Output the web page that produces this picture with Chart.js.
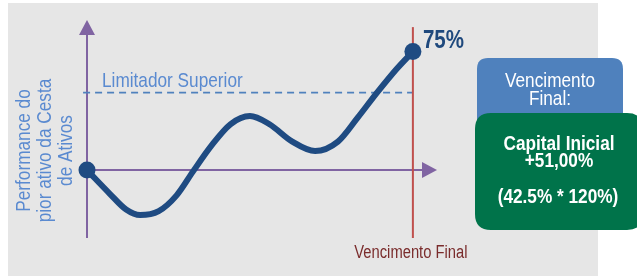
<!DOCTYPE html>
<html>
<head>
<meta charset="utf-8">
<script src="https://cdn.jsdelivr.net/npm/chart.js@4.4.1/dist/chart.umd.min.js"></script>
<style>
  html, body { margin: 0; padding: 0; background: #fff; }
  #wrap { width: 637px; height: 276px; position: relative; }
</style>
</head>
<body>
<div id="wrap"><canvas id="chart"></canvas></div>
<script>
// Performance path of the worst asset, in % of the initial level.
const curveX = [0, 7, 12, 16.3, 22, 27.5, 32.5, 38, 44, 50, 56, 63, 70, 77, 83, 89, 95, 100];
const curveY = [0, -15, -25, -28.5, -26, -16, -1, 15, 29, 34.2, 29, 18, 12, 18, 33, 49, 64, 75];
const limiterLevel = 49;
const maturityX = 100;
const finalLabel = "75%";
const yTitle = ["Performance do", "pior ativo da Cesta", "de Ativos"];
const limiterLabel = "Limitador Superior";
const maturityLabel = "Vencimento Final";
const boxTitle = ["Vencimento", "Final:"];
const boxResult = ["Capital Inicial", "+51,00%", "(42.5% * 120%)"];

// no narrow face installed: squeeze Liberation Sans (Arial metrics) instead
const FONT = "'Liberation Sans', Arial, sans-serif";
const NARROW = 0.82;

function narrowText(ctx, text, x, y, font, align, rotate) {
  ctx.save();
  ctx.translate(x, y);
  if (rotate) ctx.rotate(rotate);
  ctx.scale(NARROW, 1);
  ctx.font = font;
  ctx.textAlign = align;
  ctx.textBaseline = "alphabetic";
  ctx.fillText(text, 0, 0);
  ctx.restore();
}

function roundRect(ctx, x, y, w, h, r) {
  ctx.beginPath();
  ctx.moveTo(x + r, y);
  ctx.lineTo(x + w - r, y);
  ctx.quadraticCurveTo(x + w, y, x + w, y + r);
  ctx.lineTo(x + w, y + h - r);
  ctx.quadraticCurveTo(x + w, y + h, x + w - r, y + h);
  ctx.lineTo(x + r, y + h);
  ctx.quadraticCurveTo(x, y + h, x, y + h - r);
  ctx.lineTo(x, y + r);
  ctx.quadraticCurveTo(x, y, x + r, y);
  ctx.closePath();
}

const decor = {
  id: "decor",
  beforeDraw(chart) {
    const ctx = chart.ctx;
    ctx.save();
    ctx.fillStyle = "#ffffff";
    ctx.fillRect(0, 0, chart.width, chart.height);
    ctx.fillStyle = "#e6e6e6";
    ctx.fillRect(8, 3, 590, 273);
    ctx.restore();
  },
  beforeDatasetsDraw(chart) {
    const { ctx, chartArea: a } = chart;
    const x0 = chart.scales.x.getPixelForValue(0);
    const y0 = chart.scales.y.getPixelForValue(0);
    ctx.save();
    ctx.strokeStyle = "#8064a2";
    ctx.fillStyle = "#8064a2";
    ctx.lineWidth = 2;
    // y axis
    ctx.beginPath();
    ctx.moveTo(x0, a.bottom);
    ctx.lineTo(x0, a.top + 10);
    ctx.stroke();
    ctx.beginPath();
    ctx.moveTo(x0, a.top);
    ctx.lineTo(x0 - 8, a.top + 15);
    ctx.lineTo(x0 + 8, a.top + 15);
    ctx.closePath();
    ctx.fill();
    // x axis
    ctx.beginPath();
    ctx.moveTo(x0, y0);
    ctx.lineTo(a.right - 10, y0);
    ctx.stroke();
    ctx.beginPath();
    ctx.moveTo(a.right, y0);
    ctx.lineTo(a.right - 15, y0 - 8);
    ctx.lineTo(a.right - 15, y0 + 8);
    ctx.closePath();
    ctx.fill();
    ctx.restore();
  },
  afterDraw(chart) {
    const ctx = chart.ctx;
    const xs = chart.scales.x, ys = chart.scales.y;
    ctx.save();

    // y axis title, three rotated lines
    ctx.fillStyle = "#5a8ad0";
    yTitle.forEach((t, i) => {
      narrowText(ctx, t, 30 + i * 21, 150.5, "21px " + FONT, "center", -Math.PI / 2);
    });

    narrowText(ctx, limiterLabel, xs.getPixelForValue(0) + 15,
      ys.getPixelForValue(limiterLevel) - 6, "21px " + FONT, "left");

    ctx.fillStyle = "#7a2c2c";
    narrowText(ctx, maturityLabel, xs.getPixelForValue(maturityX) - 2, 258, "18px " + FONT, "center");

    const last = curveY.length - 1;
    ctx.fillStyle = "#1f497d";
    narrowText(ctx, finalLabel, xs.getPixelForValue(curveX[last]) + 10,
      ys.getPixelForValue(curveY[last]) - 4, "bold 25px " + FONT, "left");

    // result boxes
    ctx.fillStyle = "#4f81bd";
    roundRect(ctx, 477, 58, 146, 80, 11);
    ctx.fill();
    ctx.fillStyle = "#00734a";
    roundRect(ctx, 475, 113, 168, 117, 16);
    ctx.fill();

    ctx.fillStyle = "#ffffff";
    narrowText(ctx, boxTitle[0], 550, 87, "21px " + FONT, "center");
    narrowText(ctx, boxTitle[1], 550, 105, "21px " + FONT, "center");
    narrowText(ctx, boxResult[0], 559, 150, "bold 21px " + FONT, "center");
    narrowText(ctx, boxResult[1], 559, 167, "bold 21px " + FONT, "center");
    narrowText(ctx, boxResult[2], 558, 203, "bold 21px " + FONT, "center");
    ctx.restore();
  }
};

const curvePoints = curveX.map((x, i) => ({ x, y: curveY[i] }));
const dotRadius = curveX.map((x, i) => (i === 0 || i === curveX.length - 1 ? 8.5 : 0));

new Chart(document.getElementById("chart"), {
  type: "line",
  data: {
    datasets: [
      {
        data: curvePoints,
        borderColor: "#1f4b82",
        backgroundColor: "#1f4b82",
        borderWidth: 6,
        cubicInterpolationMode: "monotone",
        pointRadius: dotRadius,
        pointBorderWidth: 0,
        clip: false,
        order: 0
      },
      {
        data: [{ x: maturityX, y: -43 }, { x: maturityX, y: 90.5 }],
        borderColor: "#c0504d",
        borderWidth: 2,
        pointRadius: 0,
        clip: false,
        order: 1
      },
      {
        data: [{ x: -1.2, y: limiterLevel }, { x: maturityX, y: limiterLevel }],
        borderColor: "#4f81bd",
        borderWidth: 1.8,
        borderDash: [7, 5],
        pointRadius: 0,
        clip: false,
        order: 2
      }
    ]
  },
  options: {
    responsive: true,
    maintainAspectRatio: false,
    animation: false,
    layout: { padding: { left: 87, right: 200, top: 20, bottom: 38 } },
    scales: {
      x: { type: "linear", min: 0, max: 107.4, display: false },
      y: { type: "linear", min: -43, max: 95, display: false }
    },
    plugins: {
      legend: { display: false },
      tooltip: { enabled: false }
    }
  },
  plugins: [decor]
});
</script>
</body>
</html>
